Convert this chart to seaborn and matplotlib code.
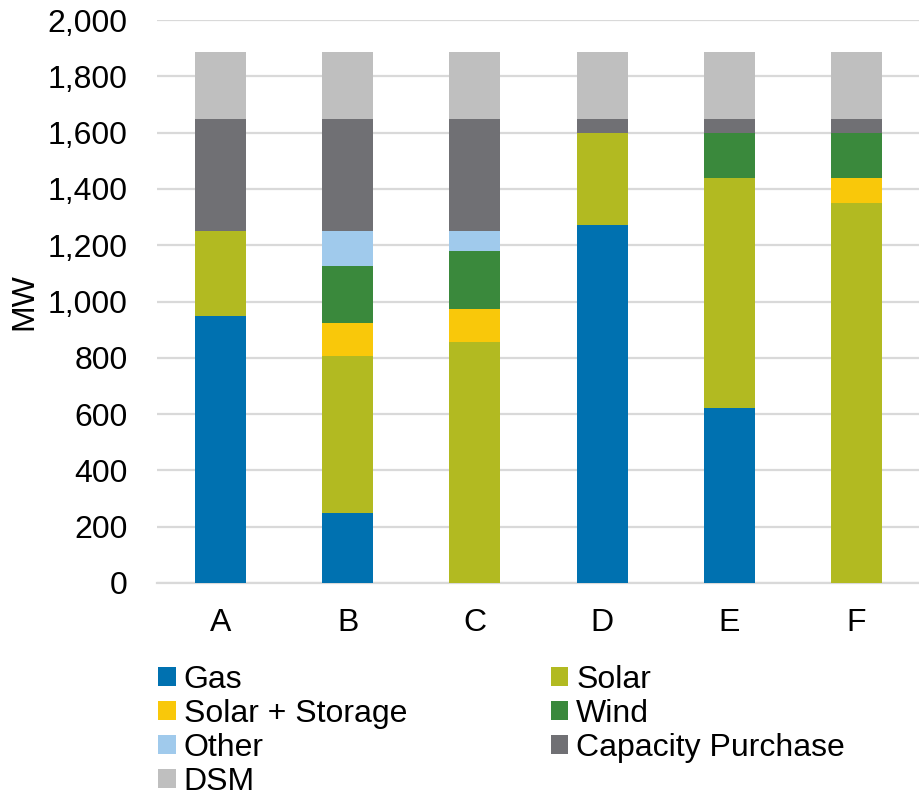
import matplotlib
matplotlib.use("Agg")
import matplotlib.pyplot as plt
from matplotlib.patches import Patch
from matplotlib.ticker import FuncFormatter
import seaborn as sns
import pandas as pd
import numpy as np

# portfolios and capacity by resource (MW)
portfolios = ["A", "B", "C", "D", "E", "F"]
gas = [950, 250, 0, 1270, 620, 0]
solar = [300, 555, 855, 330, 820, 1350]
solar_storage = [0, 120, 120, 0, 0, 90]
wind = [0, 200, 205, 0, 160, 160]
other = [0, 125, 70, 0, 0, 0]
capacity_purchase = [400, 400, 400, 50, 50, 50]
dsm = [235, 235, 235, 235, 235, 235]

layers = [
    ("Gas", gas, "#0071B0"),
    ("Solar", solar, "#B2BA21"),
    ("Solar + Storage", solar_storage, "#F9C80A"),
    ("Wind", wind, "#3A893C"),
    ("Other", other, "#A0CAEC"),
    ("Capacity Purchase", capacity_purchase, "#707074"),
    ("DSM", dsm, "#BFBFBF"),
]

sns.set_theme(style="white")
plt.rcParams["font.family"] = ["Liberation Sans", "DejaVu Sans"]
plt.rcParams["text.color"] = "black"

fs = 23

fig = plt.figure(figsize=(9.2, 7.96), dpi=100)
ax = fig.add_axes([157 / 920, 1 - 583 / 796, 763 / 920, 563 / 796])

# stacked bars: draw cumulative totals from top layer down
cum = np.cumsum([l[1] for l in layers], axis=0)
for i in range(len(layers) - 1, -1, -1):
    df = pd.DataFrame({"portfolio": portfolios, "mw": cum[i]})
    sns.barplot(data=df, x="portfolio", y="mw", color=layers[i][2],
                width=0.4, saturation=1, ax=ax, zorder=3,
                edgecolor="none", linewidth=0)

ax.set_xlim(-0.5, 5.5)
ax.set_ylim(0, 2000)
ax.set_yticks(range(0, 2001, 200))
ax.yaxis.set_major_formatter(FuncFormatter(lambda v, p: f"{int(v):,}"))
ax.grid(axis="y", color="#D9D9D9", linewidth=1.6, zorder=0)
ax.set_axisbelow(True)
for s in ["top", "right", "left"]:
    ax.spines[s].set_visible(False)
ax.spines["bottom"].set_color("#D9D9D9")
ax.spines["bottom"].set_linewidth(1.6)
ax.tick_params(axis="both", length=0, labelsize=fs, colors="black")
ax.tick_params(axis="y", pad=21)
ax.tick_params(axis="x", pad=18)
ax.set_xlabel("")
ax.set_ylabel("MW", fontsize=fs, color="black")
ax.yaxis.set_label_coords(-(157 - 39) / 763, 0.5)

order = [0, 2, 4, 6, 1, 3, 5]
handles = [Patch(facecolor=layers[k][2], edgecolor="none", label=layers[k][0]) for k in order]
fig.legend(handles=handles, ncol=2, loc="upper left",
           bbox_to_anchor=(158 / 920, 1 - 665 / 796), frameon=False,
           fontsize=fs, handlelength=0.55, handleheight=0.55,
           handletextpad=0.25, labelspacing=0.12, columnspacing=4.5,
           borderaxespad=0, borderpad=0)

fig.savefig("out.png", dpi=100)
